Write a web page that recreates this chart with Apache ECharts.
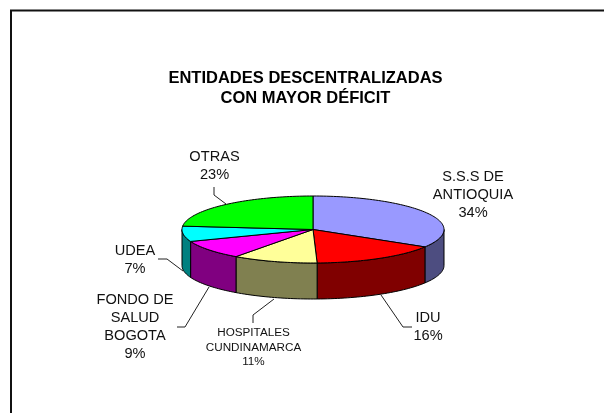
<!DOCTYPE html>
<html>
<head>
<meta charset="utf-8">
<style>html,body{margin:0;padding:0;background:#fff}#c{width:604px;height:413px}</style>
<script src="https://cdn.jsdelivr.net/npm/echarts@6/dist/echarts.min.js"></script>
</head>
<body>
<div id="c"></div>
<script>
var titleText = 'ENTIDADES DESCENTRALIZADAS\nCON MAYOR DÉFICIT';
var categories = ['S.S.S DE\nANTIOQUIA', 'IDU', 'HOSPITALES\nCUNDINAMARCA', 'FONDO DE\nSALUD\nBOGOTA', 'UDEA', 'OTRAS'];
var values = [33.7, 15.8, 10.5, 9.2, 7.4, 23.4];
var topColors = ['#9999ff', '#ff0000', '#ffff99', '#ff00ff', '#00ffff', '#00ff00'];
var sideColors = ['#4d4d80', '#800000', '#808050', '#800080', '#008080', '#008000'];

// layout of the tilted pie
var cx = 313, cy = 229.5, rx = 131, ry = 33.5, depth = 36;
var labelX = [473, 428, 253.5, 135, 135, 214.5];
var labelY = [177, 318, 333, 300, 251, 157];
var labelSize = [14.6, 14.6, 11.7, 14.6, 14.6, 14.6];
var labelLine = [18, 18, 14.5, 18, 18, 18];
var leaders = [
  null,
  [[412, 327], [403, 327], [381, 295]],
  [[253, 323], [253, 315], [274, 299]],
  [[177, 327], [185, 327], [209, 287]],
  [[158, 259], [167, 259], [183, 271]],
  [[214, 187], [214, 195], [226, 204]]
];

var total = values.reduce(function (a, b) { return a + b; }, 0);
function pt(deg, dy) {
  var t = deg * Math.PI / 180;
  return [cx + rx * Math.sin(t), cy - ry * Math.cos(t) + (dy || 0)];
}
function arc(a, b, dy) {
  var out = [], n = Math.max(2, Math.ceil(Math.abs(b - a) / 1.5));
  for (var i = 0; i <= n; i++) out.push(pt(a + (b - a) * i / n, dy));
  return out;
}
function renderItem(params, api) {
  var i = params.dataIndex, before = 0;
  for (var k = 0; k < i; k++) before += values[k];
  var a = before / total * 360, b = (before + api.value(0)) / total * 360;
  var children = [];
  var sa = Math.max(a, 90), sb = Math.min(b, 270);
  if (sb > sa) {
    children.push({
      type: 'polygon', z2: 1,
      shape: { points: arc(sa, sb, 0).concat(arc(sb, sa, depth)) },
      style: { fill: sideColors[i], stroke: '#000', lineWidth: 1 }
    });
  }
  children.push({
    type: 'polygon', z2: 5,
    shape: { points: [[cx, cy]].concat(arc(a, b, 0)) },
    style: { fill: topColors[i], stroke: '#000', lineWidth: 1, lineJoin: 'round' }
  });
  if (leaders[i]) {
    children.push({
      type: 'polyline', z2: 3,
      shape: { points: leaders[i] },
      style: { fill: null, stroke: '#222', lineWidth: 1 }
    });
  }
  var lines = (categories[i] + '\n' + Math.round(api.value(0)) + '%').split('\n');
  lines.forEach(function (s, j) {
    children.push({
      type: 'text', z2: 8,
      style: {
        x: labelX[i], y: labelY[i] + j * labelLine[i], text: s,
        align: 'center', verticalAlign: 'middle',
        font: labelSize[i] + 'px "Liberation Sans", Arial, sans-serif', fill: '#111'
      }
    });
  });
  return { type: 'group', children: children };
}

var chart = echarts.init(document.getElementById('c'), null, { renderer: 'canvas' });
chart.setOption({
  animation: false,
  backgroundColor: '#fff',
  title: {
    text: titleText, left: 300.5, top: 63, textAlign: 'center',
    textStyle: { fontFamily: '"Liberation Sans", Arial, sans-serif', fontSize: 16.5, fontWeight: 'bold', color: '#000', lineHeight: 20.5 }
  },
  graphic: [
    { type: 'polyline', silent: true, shape: { points: [[11, 413], [11, 10.5], [604, 10.5]] }, style: { fill: null, stroke: '#111', lineWidth: 2 } }
  ],
  series: [{
    type: 'custom', coordinateSystem: 'none', silent: true,
    renderItem: renderItem,
    data: values
  }]
});
</script>
</body>
</html>
